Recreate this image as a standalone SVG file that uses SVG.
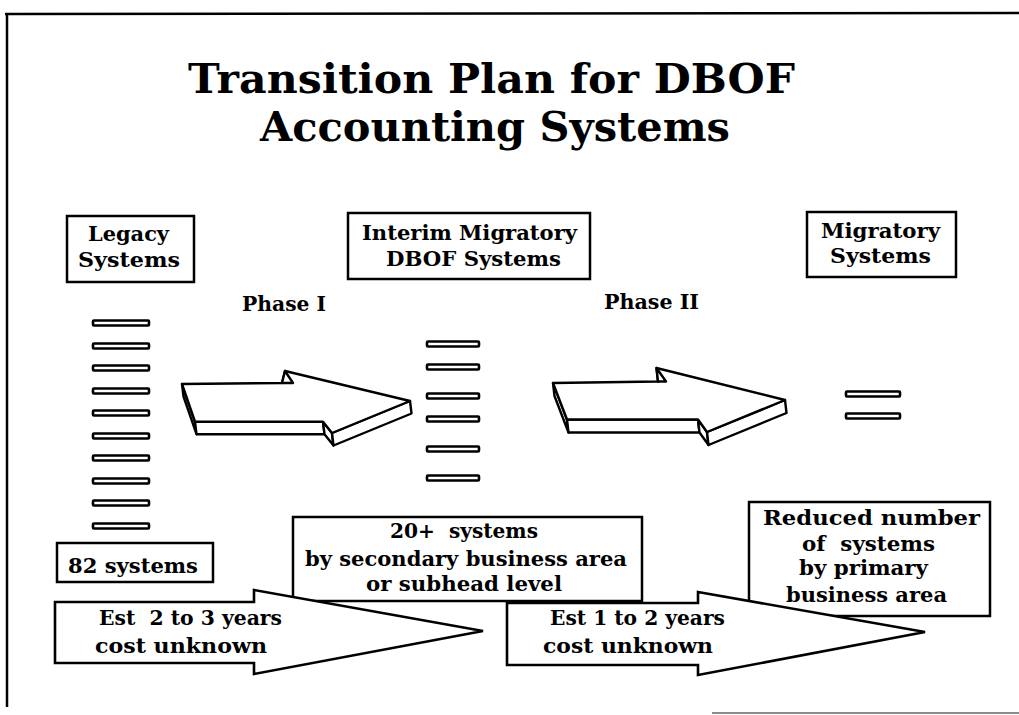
<svg xmlns="http://www.w3.org/2000/svg" width="1019" height="715" viewBox="0 0 1019 715">
  <style>
    text { font-family: "DejaVu Serif", "Liberation Serif", serif; font-weight: bold; fill: #000; white-space: pre; }
    .title { font-size: 41px; }
    .lbl { font-size: 21px; }
    .sm { font-size: 20px; }
    .box { fill: #fff; stroke: #000; stroke-width: 2.5; }
    .bar { fill: #fff; stroke: #000; stroke-width: 2.6; }
    .face { fill: #fff; stroke: #000; stroke-width: 2.4; stroke-linejoin: round; }
    .flat { fill: #fff; stroke: #000; stroke-width: 2.6; stroke-linejoin: miter; }
    .frame { stroke: #000; stroke-width: 2.5; fill: none; }
  </style>

  <rect width="1019" height="715" fill="#fff"/>

  <!-- page frame -->
  <g id="frame">
    <line class="frame" x1="5" y1="14" x2="1019" y2="13"/>
    <line class="frame" x1="7" y1="14" x2="7" y2="707"/>
    <line x1="712" y1="713" x2="1019" y2="713" stroke="#666" stroke-width="1.6"/>
  </g>

  <!-- heading -->
  <g id="title">
    <text class="title" x="188" y="93" textLength="607" lengthAdjust="spacingAndGlyphs">Transition Plan for DBOF</text>
    <text class="title" x="260" y="141" textLength="470" lengthAdjust="spacingAndGlyphs">Accounting Systems</text>
  </g>

  <!-- stage headers -->
  <g id="legacy">
    <rect class="box" x="67" y="216" width="127" height="66"/>
    <text class="lbl" x="88" y="241" textLength="81" lengthAdjust="spacingAndGlyphs">Legacy</text>
    <text class="lbl" x="78" y="267" textLength="102" lengthAdjust="spacingAndGlyphs">Systems</text>
  </g>
  <g id="interim">
    <rect class="box" x="348" y="213" width="242" height="66"/>
    <text class="lbl" x="362" y="240" textLength="215" lengthAdjust="spacingAndGlyphs">Interim Migratory</text>
    <text class="lbl" x="386" y="266" textLength="175" lengthAdjust="spacingAndGlyphs">DBOF Systems</text>
  </g>
  <g id="migratory">
    <rect class="box" x="807" y="212" width="149" height="65"/>
    <text class="lbl" x="821" y="238" textLength="119" lengthAdjust="spacingAndGlyphs">Migratory</text>
    <text class="lbl" x="830" y="263" textLength="101" lengthAdjust="spacingAndGlyphs">Systems</text>
  </g>

  <g id="phase1">
    <text class="sm" x="242" y="311" textLength="84" lengthAdjust="spacingAndGlyphs">Phase I</text>
  </g>
  <g id="phase2">
    <text class="sm" x="604" y="309" textLength="95" lengthAdjust="spacingAndGlyphs">Phase II</text>
  </g>

  <!-- system stacks -->
  <g id="legacy-stack">
    <rect class="bar" x="93" y="320.5" width="56" height="5" rx="1"/>
    <rect class="bar" x="93" y="343.5" width="56" height="5" rx="1"/>
    <rect class="bar" x="93" y="365.5" width="56" height="5" rx="1"/>
    <rect class="bar" x="93" y="388.5" width="56" height="5" rx="1"/>
    <rect class="bar" x="93" y="410.5" width="56" height="5" rx="1"/>
    <rect class="bar" x="93" y="433.5" width="56" height="5" rx="1"/>
    <rect class="bar" x="93" y="455.5" width="56" height="5" rx="1"/>
    <rect class="bar" x="93" y="478.5" width="56" height="5" rx="1"/>
    <rect class="bar" x="93" y="500.5" width="56" height="5" rx="1"/>
    <rect class="bar" x="93" y="523.5" width="56" height="5" rx="1"/>
  </g>
  <g id="interim-stack">
    <rect class="bar" x="427" y="341.5" width="52" height="5" rx="1"/>
    <rect class="bar" x="427" y="364.5" width="52" height="5" rx="1"/>
    <rect class="bar" x="427" y="393.5" width="52" height="5" rx="1"/>
    <rect class="bar" x="427" y="416.5" width="52" height="5" rx="1"/>
    <rect class="bar" x="427" y="446.5" width="52" height="5" rx="1"/>
    <rect class="bar" x="427" y="475.5" width="52" height="5" rx="1"/>
  </g>
  <g id="migratory-stack">
    <rect class="bar" x="846" y="391.5" width="54" height="5" rx="1"/>
    <rect class="bar" x="846" y="413.5" width="54" height="5" rx="1"/>
  </g>

  <!-- stage notes -->
  <g id="count-legacy">
    <rect class="box" x="57" y="543" width="156" height="39"/>
    <text class="sm" x="68" y="573" textLength="130" lengthAdjust="spacingAndGlyphs">82 systems</text>
  </g>
  <g id="count-interim">
    <rect class="box" x="293" y="517" width="349" height="84"/>
    <text class="sm" x="390" y="538" textLength="148" lengthAdjust="spacingAndGlyphs">20+  systems</text>
    <text class="sm" x="305" y="566" textLength="322" lengthAdjust="spacingAndGlyphs">by secondary business area</text>
    <text class="sm" x="366" y="591" textLength="196" lengthAdjust="spacingAndGlyphs">or subhead level</text>
  </g>
  <g id="count-migratory">
    <rect class="box" x="749" y="502" width="241" height="114"/>
    <text class="sm" x="763" y="525" textLength="217" lengthAdjust="spacingAndGlyphs">Reduced number</text>
    <text class="sm" x="802" y="551" textLength="133" lengthAdjust="spacingAndGlyphs">of  systems</text>
    <text class="sm" x="799" y="575" textLength="129" lengthAdjust="spacingAndGlyphs">by primary</text>
    <text class="sm" x="786" y="602" textLength="161" lengthAdjust="spacingAndGlyphs">business area</text>
  </g>

  <!-- transition arrows -->
  <g id="connectors">
    <!-- Phase I block arrow -->
    <g id="arrow-phase1">
      <polygon class="face" points="182,384 195,421.7 196.5,434.2 183.5,396.5"/>
      <polygon class="face" points="195,421.7 323,421.7 324.5,434.2 196.5,434.2"/>
      <polygon class="face" points="323,421.7 332,433 333.5,445.5 324.5,434.2"/>
      <polygon class="face" points="332,433 410,401 411.5,413.5 333.5,445.5"/>
      <polygon class="face" points="182,384 282,383 285,371 410,401 332,433 323,421.7 195,421.7"/>
      <polygon class="face" points="282,383 285,371 293,383"/>
    </g>
    <!-- Phase II block arrow -->
    <g id="arrow-phase2">
      <polygon class="face" points="553,383 567,419.5 568.5,432.5 554.5,396"/>
      <polygon class="face" points="567,419.5 698,419.5 699.5,432.5 568.5,432.5"/>
      <polygon class="face" points="698,419.5 707,432 708.5,445 699.5,432.5"/>
      <polygon class="face" points="707,432 785,400 786.5,413 708.5,445"/>
      <polygon class="face" points="553,383 658,381.5 656.5,368 785,400 707,432 698,419.5 567,419.5"/>
      <polygon class="face" points="658,381.5 656.5,368 666,381.5"/>
    </g>
    <!-- schedule arrows -->
    <g id="arrow-schedule1">
      <polygon class="flat" points="55,602 254,602 254,590 483,631 254,674 254,663 55,663"/>
      <text class="sm" x="99" y="625" textLength="183" lengthAdjust="spacingAndGlyphs">Est  2 to 3 years</text>
      <text class="sm" x="95" y="653" textLength="172" lengthAdjust="spacingAndGlyphs">cost unknown</text>
    </g>
    <g id="arrow-schedule2">
      <polygon class="flat" points="507,603 698,603 698,592 925,632 698,675 698,665 507,665"/>
      <text class="sm" x="550" y="625" textLength="175" lengthAdjust="spacingAndGlyphs">Est 1 to 2 years</text>
      <text class="sm" x="543" y="653" textLength="170" lengthAdjust="spacingAndGlyphs">cost unknown</text>
    </g>
  </g>
</svg>
